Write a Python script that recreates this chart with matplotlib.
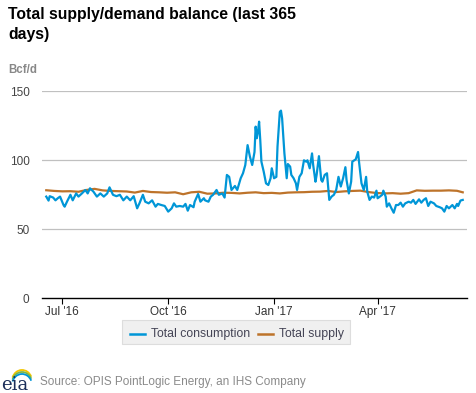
import matplotlib
matplotlib.use("Agg")
import matplotlib.pyplot as plt
import pandas as pd
from matplotlib.patches import Arc, FancyBboxPatch
from matplotlib.lines import Line2D

plt.rcParams['font.family'] = ['Liberation Sans', 'DejaVu Sans']

# ---- data (days since 2016-07-01, Bcf/d) ----
cons_days = [-14, -12, -11, -8, -6, -4, -2, 1, 2, 4, 7, 9, 12, 14, 17, 20, 22, 24, 27, 30,
             33, 36, 39, 41, 44, 47, 50, 53, 56, 59, 62, 65, 67, 70, 72, 75, 78, 81, 83, 86,
             89, 92, 95, 97, 99, 102, 105, 107, 109, 111, 114, 115, 118, 120, 123, 124, 127, 129, 131, 134,
             136, 139, 141, 143, 145, 147, 150, 152, 155, 157, 159, 161, 163, 165, 167, 168, 169, 170,
             171, 172, 173, 175, 177, 179, 181, 182, 184, 186, 187, 189, 190, 191, 193, 195, 196, 198,
             199, 201, 203, 204, 206, 208, 210, 212, 213, 215, 217, 218, 220, 221, 223, 225, 226, 228,
             230, 232, 234, 236, 238, 240, 242, 244, 246, 247, 249, 251, 252, 255, 257, 258, 260, 262,
             264, 265, 267, 269, 271, 273, 274, 276, 278, 279, 281, 282, 284, 286, 288, 290, 292, 294,
             296, 298, 301, 303, 305, 307, 310, 312, 314, 316, 318, 320, 323, 325, 328, 330, 332, 334,
             336, 339, 341, 343, 344, 346, 348]
consumption = [73.7, 70.8, 74.0, 73.0, 71.0, 72.5, 73.7, 67.6, 66.4, 70.0, 75.0, 71.0, 76.0, 73.7, 76.0, 78.5, 76.0, 79.7, 77.3, 73.7,
               76.0, 73.7, 76.0, 80.4, 75.0, 74.0, 75.0, 71.0, 73.7, 71.0, 74.0, 65.2, 68.8, 75.0, 70.0, 68.8, 71.0, 66.4, 68.4, 67.6,
               66.9, 62.8, 65.2, 68.8, 66.4, 66.9, 66.4, 68.4, 63.5, 67.6, 66.0, 70.0, 75.6, 70.0, 72.5, 71.0, 70.0, 73.7, 75.0, 78.5,
               75.0, 76.0, 73.0, 89.4, 88.0, 78.5, 81.4, 78.5, 87.0, 90.6, 96.6, 111.0, 102.7, 96.6, 106.0, 124.4, 116.0, 120.8,
               128.0, 114.7, 99.0, 91.8, 83.3, 82.1, 87.0, 94.2, 87.0, 88.0, 110.0, 135.0, 136.0, 130.4, 105.0, 87.0, 97.3, 95.4,
               89.4, 87.0, 83.3, 78.5, 88.0, 90.6, 100.0, 99.0, 100.0, 94.2, 105.0, 96.6, 84.5, 89.4, 103.0, 85.7, 84.5, 89.4,
               90.6, 71.3, 73.7, 75.0, 78.5, 88.0, 81.0, 87.0, 95.0, 85.7, 76.0, 84.5, 99.0, 100.7, 106.0, 97.8, 83.3, 78.5,
               88.0, 77.3, 71.3, 73.7, 73.0, 78.0, 72.5, 73.7, 75.0, 78.0, 73.7, 66.4, 68.8, 65.2, 62.0, 67.6, 67.6, 69.3,
               66.4, 68.8, 70.0, 69.3, 71.3, 68.4, 71.7, 69.3, 71.3, 72.5, 66.9, 70.0, 68.8, 66.9, 66.0, 65.2, 62.8, 66.9,
               65.2, 67.6, 65.2, 68.4, 66.9, 70.8, 71.3]

supply_days = [-14, -7, 0, 7, 14, 21, 28, 35, 42, 49, 56, 63, 70, 77, 84, 91, 98, 105, 112, 119,
               126, 133, 140, 147, 154, 161, 168, 175, 182, 189, 196, 203, 210, 217, 224, 231, 238, 245,
               252, 259, 266, 273, 280, 287, 294, 301, 308, 315, 322, 329, 336, 343, 348]
supply = [78.3, 77.8, 77.5, 77.6, 77.2, 78.5, 79.3, 78.2, 77.8, 77.6, 77.4, 76.6, 77.8, 77.0, 76.8, 76.5, 76.8, 75.4, 76.8, 77.2,
          75.8, 76.0, 76.5, 76.4, 76.0, 76.5, 76.8, 76.2, 76.4, 76.0, 76.6, 76.8, 76.9, 77.2, 77.3, 77.8, 77.0, 77.5,
          77.8, 78.0, 77.0, 76.3, 76.0, 76.2, 75.8, 76.2, 78.2, 77.9, 78.0, 78.0, 78.2, 77.9, 76.8]

tick_labels = ["Jul '16", "Oct '16", "Jan '17", "Apr '17"]
tick_dates = ["2016-07-01", "2016-10-01", "2017-01-01", "2017-04-01"]
y_ticks = [0, 50, 100, 150]

base = pd.Timestamp("2016-07-01")
cons_x = base + pd.to_timedelta(cons_days, unit="D")
sup_x = base + pd.to_timedelta(supply_days, unit="D")

W, H = 477, 393
fig = plt.figure(figsize=(W / 100, H / 100), dpi=100)
fig.patch.set_facecolor("white")

ax = fig.add_axes([42 / W, (H - 298.3) / H, 425 / W, 207 / H])
ax.plot(sup_x, supply, color="#bd732a", lw=1.6, zorder=3)
ax.plot(cons_x, consumption, color="#0096d7", lw=1.6, zorder=4)

ax.set_ylim(0, 150)
ax.set_xlim(base + pd.Timedelta(days=-17.7), base + pd.Timedelta(days=351.7))
ax.set_yticks(y_ticks)
ax.set_yticklabels([str(v) for v in y_ticks])
for v in y_ticks[1:]:
    ax.axhline(v, color="#c0c0c0", lw=0.9, zorder=1)
ax.set_xticks(pd.to_datetime(tick_dates))
ax.set_xticklabels(tick_labels)
for s in ["top", "right", "left"]:
    ax.spines[s].set_visible(False)
ax.spines["bottom"].set_color("#000000")
ax.spines["bottom"].set_linewidth(1.0)
ax.tick_params(axis="y", length=0, pad=9, labelsize=8.5, labelcolor="#444444")
ax.tick_params(axis="x", length=4, width=0.8, color="#000000", pad=1.5, labelsize=8.5, labelcolor="#333333")

# title and unit
fig.text(8 / W, 1 - 15 / H, "Total supply/demand balance (last 365", fontsize=11.3,
         fontweight="bold", va="center", ha="left", color="#000000")
fig.text(8 / W, 1 - 35 / H, "days)", fontsize=11.3, fontweight="bold", va="center", ha="left", color="#000000")
fig.text(8 / W, 1 - 70 / H, "Bcf/d", fontsize=8.3, fontweight="bold", va="center", ha="left", color="#888888")

# legend box
lx0, lx1, ly0, ly1 = 122, 350, 320, 344
box = FancyBboxPatch((lx0 / W, 1 - ly1 / H), (lx1 - lx0) / W, (ly1 - ly0) / H,
                     boxstyle="square,pad=0", transform=fig.transFigure,
                     facecolor="#f0f0f0", edgecolor="#dddddd", lw=0.8)
fig.patches.append(box)
ly = 1 - 333.5 / H
fig.lines.append(Line2D([130 / W, 145 / W], [ly, ly], transform=fig.transFigure, color="#0096d7", lw=1.8))
fig.text(151 / W, ly, "Total consumption", fontsize=8.8, va="center", ha="left", color="#444455")
fig.lines.append(Line2D([258 / W, 273 / W], [ly, ly], transform=fig.transFigure, color="#bd732a", lw=1.8))
fig.text(279 / W, ly, "Total supply", fontsize=8.8, va="center", ha="left", color="#444455")

# source
fig.text(40 / W, 1 - 382.5 / H, "Source: OPIS PointLogic Energy, an IHS Company", fontsize=8.5,
         va="center", ha="left", color="#8a8a8a")

# eia logo
fig.text(1 / W, 1 - 385 / H, "eia", fontsize=13, family="DejaVu Serif", va="center", ha="left", color="#1c2f5a")
lax = fig.add_axes([0, 0, 1, 1], facecolor="none")
lax.set_xlim(0, W)
lax.set_ylim(H, 0)
lax.axis("off")
for dy, c in [(0, "#f2c500"), (2, "#7ab648"), (4, "#0096d7")]:
    lax.add_patch(Arc((22, 381 + dy), 20, 22, theta1=200, theta2=335, color=c, lw=1.3))

fig.savefig("out.png", dpi=100)
